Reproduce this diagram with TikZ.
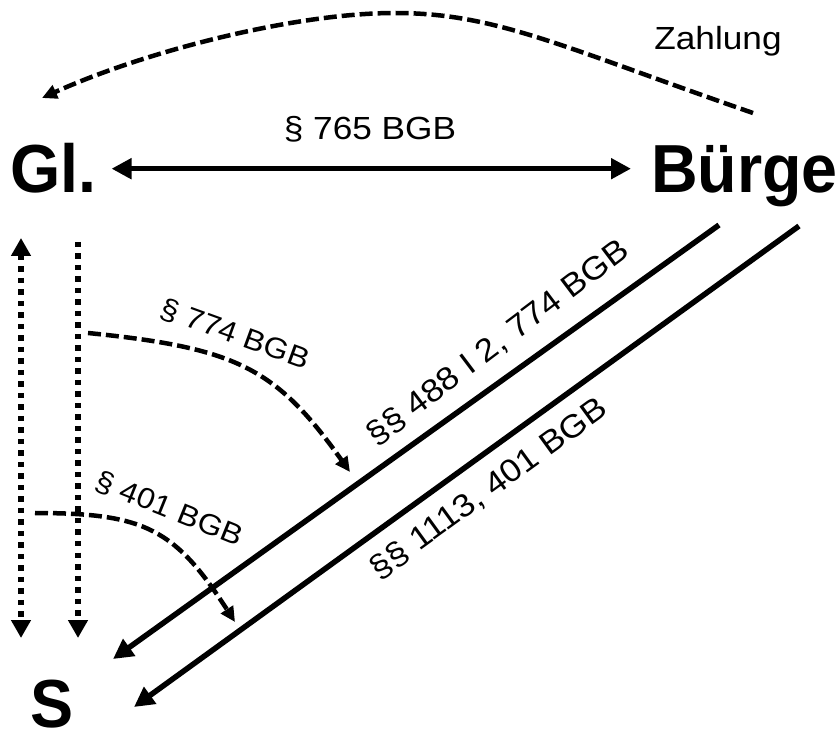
\documentclass[tikz,border=0pt]{standalone}
\usepackage{fontspec}
\setmainfont{Liberation Sans}
\newfontfamily\lblfont[FakeStretch=1.1]{Liberation Sans}
\newfontfamily\partyfont[FakeStretch=0.95]{Liberation Sans}
\usetikzlibrary{arrows.meta, positioning, calc}

\begin{document}
\begin{tikzpicture}[
  x=1pt, y=-1pt,
  party/.style={font=\partyfont\fontsize{68}{72}\selectfont\bfseries, inner sep=0pt,
                anchor=base west},
  lbl/.style={font=\lblfont\fontsize{32}{38}\selectfont, inner sep=0pt},
  sublbl/.style={font=\lblfont\fontsize{29}{34}\selectfont, inner sep=0pt},
  arr/.style={line width=5.5pt, >={Triangle[length=20pt,width=20pt]}},
  dotarr/.style={line width=5.5pt, dash pattern=on 5.5pt off 6pt,
                 >={Triangle[length=18pt,width=19pt]}},
  dasharr/.style={line width=4.5pt, dash pattern=on 13pt off 5pt,
                  >={Triangle[length=15pt,width=14pt]}},
]
\useasboundingbox (0,0) rectangle (839,735);
\node (gl)     [party] at (10,193)  {Gl.};
\node (buerge) [party] at (651,193) {Bürge};
\node (s)      [party] at (30,727)  {S};
% labels
\node (l765)  [lbl, anchor=base] at (370,140) {§ 765 BGB};
\node (lzahl) [lbl, anchor=base] at (718,50)  {Zahlung};
\node (l488)  [lbl, rotate=37]   at (498,343) {§§ 488 I 2, 774 BGB};
\node (l1113) [lbl, rotate=36]   at (489,489) {§§ 1113, 401 BGB};
\node (l774)  [sublbl, rotate=-20] at (235,334) {§ 774 BGB};
\node (l401)  [sublbl, rotate=-22] at (169,509) {§ 401 BGB};
% free ends
\coordinate (pay-from) at (753,113);
\coordinate (pay-top)  at (395,13);
\coordinate (pay-to)   at (42,98);
\coordinate (gl-a) at (21,238);  \coordinate (s-a) at (21,638);
\coordinate (gl-b) at (78,242);  \coordinate (s-b) at (78,638);
\coordinate (bu-1) at (719,225); \coordinate (s-1) at (113,659);
\coordinate (bu-2) at (799,226); \coordinate (s-2) at (134,707);
\coordinate (c774-from) at (88,333); \coordinate (c774-to) at (350,472);
\coordinate (c401-from) at (35,513); \coordinate (c401-to) at (235,622);
% Gl. <-> Buerge
\draw [arr, <->, shorten <=15pt, shorten >=20pt] (gl.east) -- (gl.east -| buerge.west);
% payment back to Gl.
\draw [dasharr, ->] (pay-from) .. controls (560,46) and (495,13) .. (pay-top)
      .. controls (295,13) and (146,51) .. (pay-to);
% Gl. -- S
\draw [dotarr, <->] (gl-a) -- (s-a);
\draw [dotarr, ->]  (gl-b) -- (s-b);
% Buerge -- S
\foreach \a/\b in {bu-1/s-1,bu-2/s-2}
  \draw [arr, ->] (\a) -- (\b);
% transfer of the claims
\draw [dasharr, ->] (c774-from) .. controls (237,348) and (276,368) .. (c774-to);
\draw [dasharr, ->] (c401-from) .. controls (145,513) and (175,529) .. (c401-to);
\end{tikzpicture}
\end{document}
